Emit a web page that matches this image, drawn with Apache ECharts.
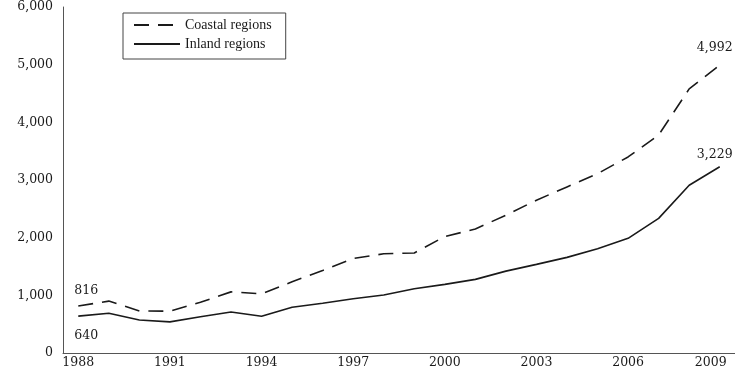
<!DOCTYPE html>
<html>
<head>
<meta charset="utf-8">
<script src="https://cdn.jsdelivr.net/npm/echarts@6/dist/echarts.min.js"></script>
<style>
  html, body { margin: 0; padding: 0; background: #fff; }
  #chart { width: 735px; height: 369px; }
</style>
</head>
<body>
<div id="chart"></div>
<script>
// years on the x axis
const years = ["1988", "1989", "1990", "1991", "1992", "1993", "1994", "1995", "1996", "1997", "1998",
  "1999", "2000", "2001", "2002", "2003", "2004", "2005", "2006", "2007", "2008", "2009"];
const coastal = [816, 900, 730, 725, 880, 1060, 1025, 1235, 1430, 1640, 1720,
  1735, 2020, 2150, 2390, 2650, 2880, 3110, 3400, 3780, 4580, 4992];
const inland = [640, 688, 572, 540, 630, 710, 636, 792, 862, 942, 1005,
  1115, 1190, 1277, 1420, 1537, 1658, 1808, 1988, 2335, 2910, 3229];

const serif = "DejaVu Serif";
const ink = "#1a1a1a";

function fmt(v) {
  return String(v).replace(/\B(?=(\d{3})+(?!\d))/g, ",");
}

// value labels on the first and last point of a series
function endMarks(arr, firstPos, firstDist, lastDist) {
  const last = arr.length - 1;
  return {
    symbol: "circle",
    symbolSize: 0,
    silent: true,
    label: {
      show: true,
      color: ink,
      fontFamily: serif,
      fontSize: 12.5,
      formatter: p => fmt(p.value)
    },
    data: [
      { coord: [0, arr[0]], value: arr[0], label: { position: firstPos, distance: firstDist, offset: [8, 0] } },
      { coord: [last, arr[last]], value: arr[last], label: { position: "top", distance: lastDist, offset: [-5, 0] } }
    ]
  };
}

let chart = echarts.init(document.getElementById("chart"));
chart.setOption({
  animation: false,
  grid: { left: 63, right: 0, top: 7, bottom: 16 },
  legend: {
    orient: "vertical",
    left: 123,
    top: 13,
    padding: [5, 14, 8, 10],
    itemGap: 5,
    itemWidth: 46,
    itemHeight: 14,
    borderColor: "#444",
    borderWidth: 1,
    itemStyle: { opacity: 0 },
    textStyle: { fontFamily: "Liberation Serif", fontSize: 14, color: ink },
    data: ["Coastal regions", "Inland regions"]
  },
  xAxis: {
    type: "category",
    data: years,
    boundaryGap: true,
    axisLine: { lineStyle: { color: "#555", width: 1 } },
    axisTick: { inside: true, length: 5, interval: 2, lineStyle: { color: "#555" } },
    axisLabel: {
      interval: 2,
      margin: 3,
      color: ink,
      fontFamily: serif,
      fontSize: 12.5,
      // last label is pushed left so it stays on the page
      formatter: v => v === years[years.length - 1] ? "{e|" + v + "}" : v,
      rich: {
        e: { fontFamily: serif, fontSize: 12.5, color: ink, padding: [0, 18, 0, 0] }
      }
    },
    splitLine: { show: false }
  },
  yAxis: {
    type: "value",
    min: 0,
    max: 6000,
    interval: 1000,
    axisLine: { show: true, lineStyle: { color: "#555", width: 1 } },
    axisTick: { show: false },
    splitLine: { show: false },
    axisLabel: {
      margin: 10,
      color: ink,
      fontFamily: serif,
      fontSize: 12.5,
      formatter: v => fmt(v)
    }
  },
  series: [
    {
      name: "Coastal regions",
      type: "line",
      symbol: "none",
      color: ink,
      lineStyle: { color: ink, width: 1.6, type: [15, 9] },
      data: coastal,
      markPoint: endMarks(coastal, "top", 9, 11)
    },
    {
      name: "Inland regions",
      type: "line",
      symbol: "none",
      color: ink,
      lineStyle: { color: ink, width: 1.6 },
      data: inland,
      markPoint: endMarks(inland, "bottom", 13, 6)
    }
  ]
});
</script>
</body>
</html>
